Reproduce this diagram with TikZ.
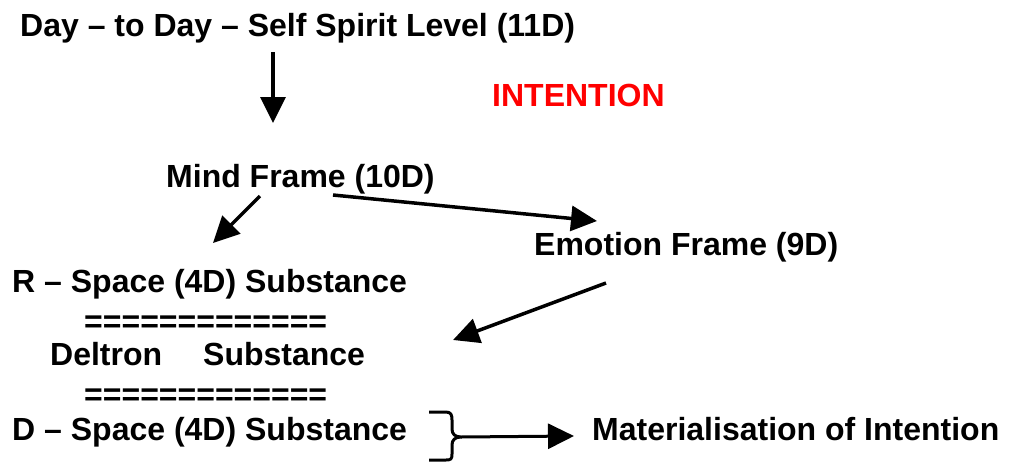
\documentclass[tikz,border=0pt]{standalone}
\usepackage{fontspec}
\setmainfont{Liberation Sans}
\usetikzlibrary{arrows.meta}
\definecolor{intred}{RGB}{255,0,0}
\tikzset{
  lbl/.style={anchor=base west, inner sep=0pt, font=\fontsize{32}{38}\selectfont\bfseries},
  arr/.style={line width=3.5pt, -{Triangle[length=26pt,width=25pt]}},
  brc/.style={line width=3pt, line join=round}
}
\begin{document}
\begin{tikzpicture}[x=1pt,y=1pt]
\useasboundingbox (0,0) rectangle (1014,-461);
\node[lbl] (title) at (20,-36) {Day – to Day – Self Spirit Level (11D)};
\node[lbl, text=intred] (intent) at (492,-106) {INTENTION};
\node[lbl] (mind) at (166,-187) {Mind Frame (10D)};
\node[lbl] (emo) at (534,-255) {Emotion Frame (9D)};
\node[lbl] (rsp) at (12,-292) {R – Space (4D) Substance};
\node[lbl] (eq1) at (84,-332) {=============};
\node[lbl] (delt) at (50,-365) {Deltron\hspace{41pt}Substance};
\node[lbl] (eq2) at (84,-405) {=============};
\node[lbl] (dsp) at (12,-440) {D – Space (4D) Substance};
\node[lbl] (mat) at (592,-440) {Materialisation of Intention};

\coordinate (a1s) at (273,-52);
\coordinate (a1e) at (273,-123);
\coordinate (a2s) at (260,-196);
\coordinate (a2e) at (213,-243);
\coordinate (a3s) at (333,-195);
\coordinate (a3e) at (597,-221);
\coordinate (a4s) at (606,-283);
\coordinate (a4e) at (453,-340);
\coordinate (brtip) at (461,-437);
\coordinate (a5e) at (574,-436);

\draw[arr] (a1s) -- (a1e);
\draw[arr] (a2s) -- (a2e);
\draw[arr] (a3s) -- (a3e);
\draw[arr] (a4s) -- (a4e);

\draw[brc] (429,-412) -- (446,-412) .. controls (451,-412) and (452,-415) .. (452,-420)
  -- (452,-429) .. controls (452,-434) and (455,-437) .. (brtip)
  .. controls (455,-437) and (452,-440) .. (452,-445)
  -- (452,-454) .. controls (452,-459) and (451,-460) .. (446,-460) -- (429,-460);
\draw[arr, line width=3pt] (brtip) -- (a5e);
\end{tikzpicture}
\end{document}
